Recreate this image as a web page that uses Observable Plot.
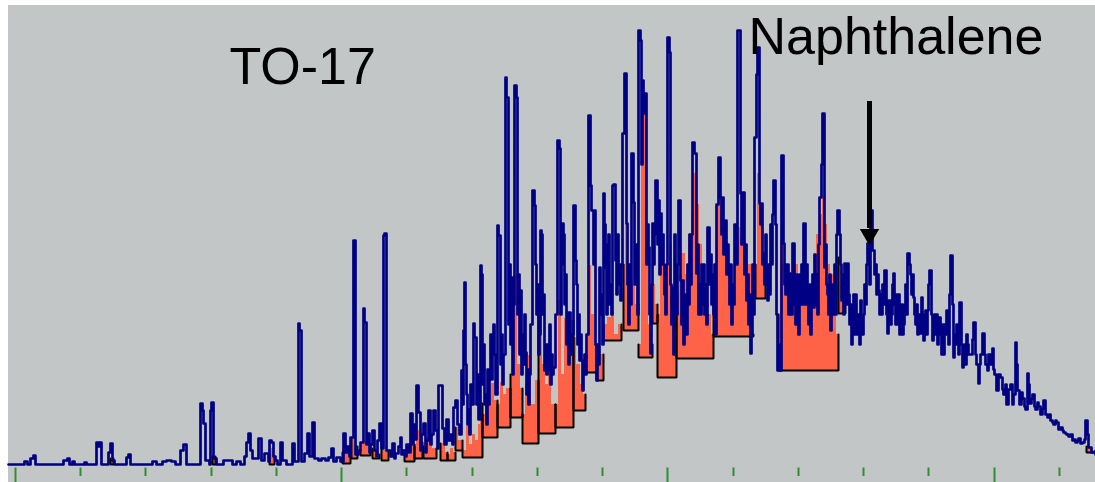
<!DOCTYPE html>
<html>
<head>
<meta charset="utf-8">
<script src="https://cdn.jsdelivr.net/npm/d3@7"></script>
<script src="https://cdn.jsdelivr.net/npm/@observablehq/plot@0.6"></script>
<style>
  html, body { margin: 0; padding: 0; background: #ffffff; overflow: hidden; }
  #chart { position: absolute; left: 8px; top: 5px; }
  #chart svg { display: block; background: #c3c6c7; }
</style>
</head>
<body>
<div id="chart"></div>
<script>
// Total ion chromatogram: [scan, abundance]
const tic = [
[8,0],[24,3],[27,0],[30,6],[33,9],[35,0],[63,4],[67,6],[69,0],[72,3],[74,0],[84,2],[86,0],[96,22],[98,18],[99,22],[101,0],[108,12],[110,21],[112,4],[114,0],[126,7],[128,10],[130,0],[152,3],[156,0],[162,3],[166,4],[171,3],[175,0],[180,14],[183,20],[186,0],
[200,61],[202,54],[203,41],[205,4],[209,0],[210,54],[211,62],[213,6],[216,0],[223,4],[232,0],[236,3],[240,0],[244,8],[246,22],[248,31],[250,14],[252,6],[258,26],[261,4],[264,11],[268,3],[269,24],[271,22],[273,8],[275,4],[277,0],[280,22],[282,4],[286,0],[292,21],[294,3],[298,141],[299,134],[301,3],[304,11],[307,31],[309,8],[312,42],[314,6],[318,4],[321,6],[325,4],[328,7],[331,16],[333,3],[336,7],[340,3],
[343,31],[345,12],[347,18],[349,8],[350,27],[353,224],[355,10],[358,14],[360,22],[363,156],[364,142],[366,20],[367,31],[369,12],[370,20],[372,34],[374,14],[376,8],[377,24],[379,41],[381,16],[383,229],[384,231],[386,14],[390,8],[392,21],[394,6],[395,11],[398,18],[400,27],[401,10],[403,14],[405,8],[406,20],[408,12],[410,51],[412,20],[413,40],[415,25],[416,79],[418,52],[420,14],[421,30],[423,41],[425,12],[426,24],[428,54],[430,20],[431,30],[433,54],[435,34],[437,16],[438,79],
[440,79],[442,36],[444,20],[446,45],[448,24],[450,30],[452,20],[453,57],[455,64],[457,40],[459,30],[461,94],[462,60],[463,134],[464,182],[465,100],[466,70],[467,40],[468,55],[469,30],[470,80],[472,60],[473,141],[474,127],[476,60],[477,90],[478,45],[480,199],[481,190],[482,80],[483,120],[484,60],[485,70],[486,40],[487,95],[488,60],[489,90],[490,130],[491,85],[492,124],[493,140],[494,110],[495,70],[497,239],[498,229],[499,229],[500,100],[501,130],[502,80],[503,110],[505,387],[506,367],[508,140],[509,200],[510,120],[511,187],[512,90],[513,160],[514,379],[515,379],[516,367],[517,150],[518,190],[519,110],[520,174],[521,90],[522,130],[523,100],[524,150],[525,112],[526,70],[527,95],[528,60],[529,90],[530,140],[532,274],[533,274],[534,259],[535,200],[536,150],[537,180],[538,110],[539,130],[540,234],[541,230],[542,150],[543,170],[544,94],[545,120],[546,90],[547,120],[548,95],[549,140],[550,80],[551,110],[552,90],[553,97],[555,150],[557,324],[558,324],[559,316],[560,150],[561,200],[562,241],[563,230],[564,160],[565,190],[566,120],[567,152],[568,100],[569,152],[570,110],[571,130],[573,259],[574,259],[575,204],[576,180],[577,120],[578,150],[579,104],[580,130],[581,104],[582,74],[583,90],[584,110],[585,90],[586,130],[588,349],[589,349],[590,279],[591,254],[592,254],[593,200],[594,254],[595,120],[596,84],[597,120],[598,100],[599,197],[600,150],[601,170],[602,120],[603,271],[604,240],[605,197],[606,150],[607,220],[608,230],[609,160],[610,180],[611,150],[612,279],[613,280],[614,280],[615,204],[616,170],[617,230],[618,180],[619,200],
[620,164],[621,200],[622,331],[623,331],[624,391],[625,391],[626,241],[627,180],[628,140],[629,200],[630,160],[631,311],[632,311],[633,262],[634,180],[635,220],[636,200],[637,150],[638,434],[639,434],[640,424],[641,300],[642,384],[643,351],[644,371],[645,371],[646,200],[647,240],[648,217],[649,150],[650,111],[651,180],[652,241],[653,200],[654,230],[655,284],[656,284],[657,220],[658,264],[659,190],[660,251],[661,200],[662,230],[663,200],[664,170],[665,150],[666,200],[667,427],[668,427],[669,412],[670,180],[671,140],[672,177],[673,110],[674,230],[675,180],[676,150],[677,200],[678,264],[679,264],[680,184],[681,140],[682,184],[683,120],[684,150],[685,170],[686,130],[687,200],[688,160],[689,230],[690,180],[691,230],[692,322],[693,322],[694,311],[695,311],[696,191],[697,220],[698,150],[699,180],[700,150],
[701,200],[702,160],[703,200],[704,150],[705,180],[706,140],[707,237],[708,237],[709,180],[710,210],[711,160],[712,190],[713,150],[714,200],[715,130],[716,260],[717,260],[718,307],[719,307],[720,267],[721,230],[722,267],[723,210],[724,244],[725,244],[726,190],[727,220],[728,200],[729,160],[730,200],[731,140],[732,180],[733,160],[734,240],[735,240],[736,200],[737,434],[738,434],[739,434],[740,271],[741,220],[742,272],[743,272],[744,190],[745,220],[746,164],[747,190],[748,140],[749,170],[750,111],[751,130],[752,200],[753,150],[754,327],[755,327],[756,390],[757,417],[758,417],[759,261],[760,240],[761,261],[762,200],[763,211],[764,180],[765,230],[766,200],[767,164],[768,200],[769,170],[770,240],[771,200],[772,250],[773,284],[774,284],[775,240],[776,150],[777,94],[779,120],[780,94],
[781,309],[782,309],[783,221],[784,180],[785,170],[786,200],[787,200],[788,150],[789,180],[790,191],[791,150],[792,221],[793,221],[794,160],[795,140],[796,190],[797,164],[798,130],[799,190],[800,160],[801,200],[802,160],[803,241],[804,241],[805,160],[806,200],[807,177],[808,140],[809,180],[810,130],[811,160],[812,190],[813,157],[814,210],[815,160],[816,190],[817,150],[818,220],[819,267],[820,267],[821,300],[822,351],[823,351],[824,197],[825,220],[826,180],[827,170],[828,150],[829,190],[830,134],[831,160],[832,180],[833,150],[834,200],[835,150],[836,230],[837,254],[838,254],[839,230],[840,200],[841,164],[842,190],[843,150],[844,201],[845,190],[846,160],[847,201],[848,170],[849,140],[850,160],[851,120],[852,147],[853,170],[854,130],[855,170],[856,140],[857,130],[858,150],[859,120],[860,164],[861,150],[862,130],[863,150],[864,180],[865,160],[866,200],[867,221],[868,221],[869,180],[870,254],[871,254],[872,214],[873,214],[874,190],[875,200],[876,170],[877,190],[878,174],[879,150],[880,170],[881,150],[882,180],[883,160],[884,194],[885,194],[886,150],[887,131],[888,164],[889,164],[890,140],[891,150],[892,180],[893,191],[894,160],[895,140],[896,170],[897,140],[898,170],[899,130],[900,147],[901,160],[902,130],[903,140],[904,160],[905,180],[906,150],[907,211],[908,211],[909,200],[910,190],[911,170],[912,190],[913,167],[914,150],[915,140],[916,160],[917,130],[918,150],[919,140],[920,131],[921,167],[922,140],[923,124],[924,150],[925,154],[926,130],[927,154],[928,180],[929,194],[930,194],[931,150],[932,124],[933,140],[934,150],[935,130],[936,150],[937,120],[938,140],[939,147],[940,130],[941,110],[942,140],[943,110],[944,140],[945,130],[946,154],[947,150],[948,120],[949,170],[950,209],[951,209],[952,160],[953,107],[954,130],[955,120],[956,140],[957,130],[958,110],[959,162],[960,162],[961,120],[962,97],[963,110],[964,120],[965,100],[966,130],[967,120],[968,110],
[970,110],[972,125],[973,142],[975,110],[976,100],[978,81],[979,100],[980,110],[982,131],[984,110],[985,100],[987,94],[988,110],[990,100],[992,116],[993,95],[994,90],[996,74],[998,90],[1000,87],[1002,75],[1003,70],[1005,80],[1006,60],[1008,75],[1010,80],[1012,60],[1013,70],[1015,122],[1016,100],[1017,74],[1019,60],[1021,72],[1022,66],[1024,58],[1025,55],[1027,91],[1028,80],[1029,61],[1031,66],[1032,70],[1034,58],[1035,55],[1037,62],[1038,58],[1040,50],[1042,56],[1043,64],[1045,50],[1047,47],[1049,50],[1050,44],[1052,42],[1053,40],[1055,44],[1056,42],[1058,35],[1060,37],[1062,34],[1063,32],[1065,31],[1066,30],[1068,28],[1070,30],[1072,24],[1074,25],[1075,22],[1077,24],[1078,26],[1080,21],[1082,22],[1084,25],[1085,44],[1087,30],[1088,17],[1091,12],[1095,10]
];

// Integrated peaks: baseline abundance b and profile [scan, abundance]
const peaks = [
{b:0, p:[[110,6],[113,6]]},
{b:0, p:[[212,8],[215,8]]},
{b:0, p:[[269,10],[271,16],[273,8],[274,8]]},
{b:1, p:[[342,12],[344,21],[347,14],[350,14]]},
{b:6, p:[[351,26],[354,18],[357,18]]},
{b:9, p:[[360,14],[362,24],[366,18],[368,12],[370,12]]},
{b:6, p:[[372,16],[375,10],[379,10]]},
{b:4, p:[[381,22],[384,14],[388,14]]},
{b:3, p:[[404,14],[408,10],[411,18],[414,18]]},
{b:6, p:[[414,20],[416,34],[419,22],[422,22]]},
{b:6, p:[[423,18],[425,27],[429,29],[432,16],[436,16]]},
{b:4, p:[[440,21],[443,20],[445,12],[447,12]]},
{b:4, p:[[447,10],[450,16],[453,12],[455,12]]},
{b:14, p:[[455,37],[458,24],[462,24]]},
{b:7, p:[[462,14],[466,38],[469,20],[472,30],[475,24],[478,40],[480,61],[482,61]]},
{b:27, p:[[482,50],[485,70],[488,60],[491,81],[494,64],[497,64]]},
{b:37, p:[[497,60],[500,82],[503,70],[506,76],[510,76]]},
{b:47, p:[[510,90],[513,189],[517,100],[520,76],[522,76]]},
{b:21, p:[[522,50],[525,80],[528,109],[531,60],[535,84],[538,84]]},
{b:31, p:[[538,171],[542,100],[545,80],[548,100],[551,60],[555,60]]},
{b:37, p:[[555,60],[558,164],[561,90],[564,146],[567,100],[570,144],[573,144]]},
{b:54, p:[[573,127],[576,100],[580,80],[583,70],[585,70]]},
{b:92, p:[[585,110],[588,199],[591,150],[594,120],[596,120]]},
{b:84, p:[[596,100],[599,110],[603,110]]},
{b:124, p:[[603,140],[607,147],[611,152],[614,130],[618,140],[621,140]]},
{b:134, p:[[623,200],[625,241],[628,197],[632,180],[635,160],[638,160]]},
{b:107, p:[[638,120],[641,300],[643,351],[646,200],[648,140],[650,120],[652,120]]},
{b:141, p:[[652,180],[655,160],[657,160]]},
{b:87, p:[[657,150],[660,200],[663,180],[667,201],[669,220],[672,170],[674,160],[676,160]]},
{b:106, p:[[676,170],[679,190],[682,211],[685,190],[688,230],[691,250],[693,291],[696,260],[699,220],[702,190],[705,160],[708,150],[711,130],[713,130]]},
{b:128, p:[[713,190],[716,260],[718,284],[721,250],[724,230],[727,200],[730,170],[734,210],[737,237],[740,230],[744,220],[748,200],[751,130],[753,130]]},
{b:166, p:[[755,200],[757,291],[760,240],[762,210],[765,210]]},
{b:94, p:[[778,150],[780,224],[783,200],[786,180],[789,191],[792,170],[795,200],[798,180],[801,175],[804,190],[807,164],[810,180],[813,170],[816,230],[819,250],[822,267],[824,240],[827,200],[830,190],[833,150],[836,130],[838,130]]},
{b:151, p:[[838,207],[841,180],[845,160]]},
{b:12, p:[[1086,18],[1090,14],[1095,14]]}
];

const minorTicks = [80, 145, 211, 276, 406, 472, 537, 602, 733, 798, 863, 928, 1059];
const majorTicks = [15, 341, 667, 994];

const labels = [
  {text: "TO-17", scan: 229, abund: 381},
  {text: "Naphthalene", scan: 748, abund: 411}
];
const arrowScan = [869];
const arrowTop = 363, arrowBottom = 236, arrowTip = 230;

// Build tables for the library
const areaRows = [];
const outlineRows = [];
peaks.forEach((pk, i) => {
  pk.p.forEach(([x, y]) => areaRows.push({g: i, x, y1: pk.b, y2: y}));
  const first = pk.p[0], last = pk.p[pk.p.length - 1];
  outlineRows.push({g: i, x: first[0], y: first[1]});
  outlineRows.push({g: i, x: first[0], y: pk.b});
  outlineRows.push({g: i, x: last[0], y: pk.b});
  outlineRows.push({g: i, x: last[0], y: last[1]});
});
const ticRows = tic.map(([x, y]) => ({x, y}));

const chart = Plot.plot({
  width: 1087,
  height: 477,
  marginLeft: 0,
  marginRight: 0,
  marginTop: 0,
  marginBottom: 18,
  x: {domain: [8, 1095], axis: null},
  y: {domain: [0, 459], axis: null},
  style: {background: "#c3c6c7", overflow: "visible"},
  marks: [
    Plot.areaY(areaRows, {x: "x", y1: "y1", y2: "y2", z: "g", curve: "step-after", fill: "#fe6347"}),
    Plot.line(outlineRows, {x: "x", y: "y", z: "g", stroke: "#000000", strokeWidth: 2, strokeLinejoin: "miter"}),
    Plot.line(ticRows, {x: "x", y: "y", curve: "step-after", stroke: "#000085", strokeWidth: 2.7}),
    Plot.ruleX(minorTicks, {y1: -3.5, y2: -12, stroke: "#2f8f2f", strokeWidth: 2}),
    Plot.ruleX(majorTicks, {y1: -3.5, y2: -18, stroke: "#2f8f2f", strokeWidth: 2}),
    Plot.ruleX(arrowScan, {y1: arrowBottom, y2: arrowTop, stroke: "#000000", strokeWidth: 5}),
    Plot.dot(arrowScan, {x: d => d, y: arrowTip, symbol: "triangle", r: 7.2, rotate: 180, fill: "#000000", stroke: "none"}),
    Plot.text(labels, {x: "scan", y: "abund", text: "text", textAnchor: "start", lineAnchor: "bottom",
      fontSize: 52, fontFamily: "Liberation Sans, Arial, sans-serif", fill: "#000000"})
  ]
});
document.getElementById("chart").appendChild(chart);
</script>
</body>
</html>
